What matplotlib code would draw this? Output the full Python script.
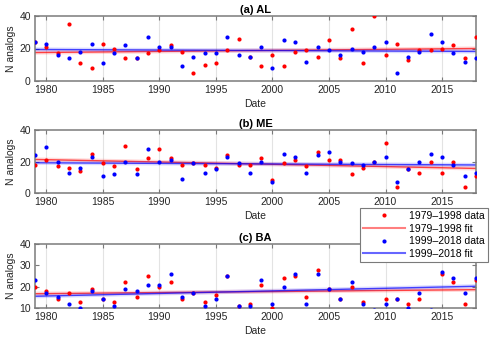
import matplotlib
matplotlib.use('Agg')
import matplotlib.pyplot as plt
import numpy as np
from matplotlib.lines import Line2D

plt.rcParams['font.family'] = ['Liberation Sans', 'DejaVu Sans']

years = np.arange(1979, 2019)

# (a) AL
al_red = [24, 21, 17, 35, 11, 8, 23, 20, 14, 14, 17, 19, 22, 18, 5, 10, 11, 19, 26, 15,
          9, 16, 9, 18, 19, 15, 25, 14, 32, 11, 40, 16, 23, 13, 19, 19, 20, 22, 14, 27]
al_blue = [24, 23, 16, 14, 18, 23, 11, 17, 22, 14, 27, 21, 21, 9, 15, 17, 17, 27, 16, 15,
           21, 8, 25, 24, 12, 21, 19, 16, 20, 18, 21, 24, 5, 15, 18, 29, 24, 17, 12, 14]
# (b) ME
me_red = [18, 21, 17, 16, 14, 25, 19, 17, 30, 15, 22, 28, 22, 18, 19, 18, 16, 24, 18, 18,
          22, 8, 19, 21, 17, 26, 21, 21, 12, 16, 20, 32, 4, 15, 13, 20, 13, 20, 4, 11]
me_blue = [24, 29, 20, 13, 16, 23, 11, 12, 20, 12, 28, 20, 21, 9, 19, 13, 15, 23, 19, 13,
           20, 7, 25, 23, 13, 24, 26, 20, 19, 18, 20, 23, 7, 15, 20, 25, 23, 18, 11, 13]
# (c) BA
ba_red = [20, 18, 14, 17, 13, 19, 14, 13, 22, 15, 25, 20, 22, 14, 17, 13, 16, 25, 11, 12,
          21, 10, 24, 25, 15, 28, 19, 14, 20, 13, 8, 14, 14, 12, 14, 8, 26, 22, 12, 23]
ba_blue = [23, 17, 15, 12, 10, 18, 14, 11, 19, 18, 21, 21, 26, 15, 17, 11, 14, 25, 11, 11,
           23, 12, 20, 26, 12, 26, 19, 14, 22, 12, 9, 12, 14, 10, 17, 9, 27, 24, 17, 24]

# fit values at 1979 and 2018
fit_years = [1979, 2018]
al_fit_red = [17.5, 20.0]
al_fit_blue = [19.4, 18.2]
me_fit_red = [21.3, 15.6]
me_fit_blue = [19.2, 17.8]
ba_fit_red = [16.7, 18.6]
ba_fit_blue = [15.5, 20.2]

panels = [
    ('(a) AL', al_red, al_blue, al_fit_red, al_fit_blue, (0, 40), [0, 20, 40]),
    ('(b) ME', me_red, me_blue, me_fit_red, me_fit_blue, (0, 40), [0, 20, 40]),
    ('(c) BA', ba_red, ba_blue, ba_fit_red, ba_fit_blue, (10, 40), [10, 20, 30, 40]),
]

boxes = [
    [35 / 500, 1 - 81 / 343, 441 / 500, 65 / 343],
    [35 / 500, 1 - 193 / 343, 441 / 500, 63 / 343],
    [35 / 500, 1 - 308 / 343, 441 / 500, 64 / 343],
]

fig = plt.figure(figsize=(5, 3.43), dpi=100)
edge = '#7a7a7a'
txt = '#262626'

for (title, red, blue, fr, fb, ylim, yt), box in zip(panels, boxes):
    ax = fig.add_axes(box)
    ax.plot(years, red, 'o', color='red', ms=3, mew=0, zorder=3)
    ax.plot(years, blue, 'o', color='blue', ms=3, mew=0, zorder=4)
    # fit lines: faint band + thin line
    ax.plot(fit_years, fr, color='red', lw=3, alpha=0.15, zorder=2)
    ax.plot(fit_years, fr, color='red', lw=1.0, alpha=0.7, zorder=2)
    ax.plot(fit_years, fb, color='blue', lw=3, alpha=0.15, zorder=2)
    ax.plot(fit_years, fb, color='blue', lw=1.0, alpha=0.7, zorder=2)
    ax.set_xlim(1979, 2018)
    ax.set_ylim(*ylim)
    ax.set_yticks(yt)
    ax.set_xticks(range(1980, 2019, 5))
    ax.grid(axis='x', color='#e3e3e3', lw=0.8)
    ax.set_axisbelow(True)
    ax.tick_params(direction='in', length=3, width=0.8, colors=edge,
                   labelcolor=txt, labelsize=7.5, top=True, right=True, pad=3)
    for s in ax.spines.values():
        s.set_color(edge)
        s.set_linewidth(1.1)
    ax.set_title(title, fontsize=8, fontweight='bold', pad=2, color='black')
    ax.set_xlabel('Date', fontsize=7.5, color=txt, labelpad=3)
    ax.set_ylabel('N analogs', fontsize=7.5, color=txt, labelpad=2)

handles = [
    Line2D([], [], ls='none', marker='o', color='red', ms=3, mew=0),
    Line2D([], [], color='red', lw=1.5, alpha=0.5),
    Line2D([], [], ls='none', marker='o', color='blue', ms=3, mew=0),
    Line2D([], [], color='blue', lw=1.5, alpha=0.6),
]
labels = ['1979\u20131998 data', '1979\u20131998 fit',
          '1999\u20132018 data', '1999\u20132018 fit']
leg = fig.legend(handles, labels, loc='upper left',
                 bbox_to_anchor=(360 / 500, 1 - 208 / 343),
                 fontsize=7.5, handlelength=4.0, handletextpad=0.4,
                 borderpad=0.3, labelspacing=0.25, borderaxespad=0,
                 fancybox=False, framealpha=1, edgecolor=edge)
leg.get_frame().set_linewidth(0.8)
leg.set_zorder(10)

plt.savefig('out.png', dpi=100)
